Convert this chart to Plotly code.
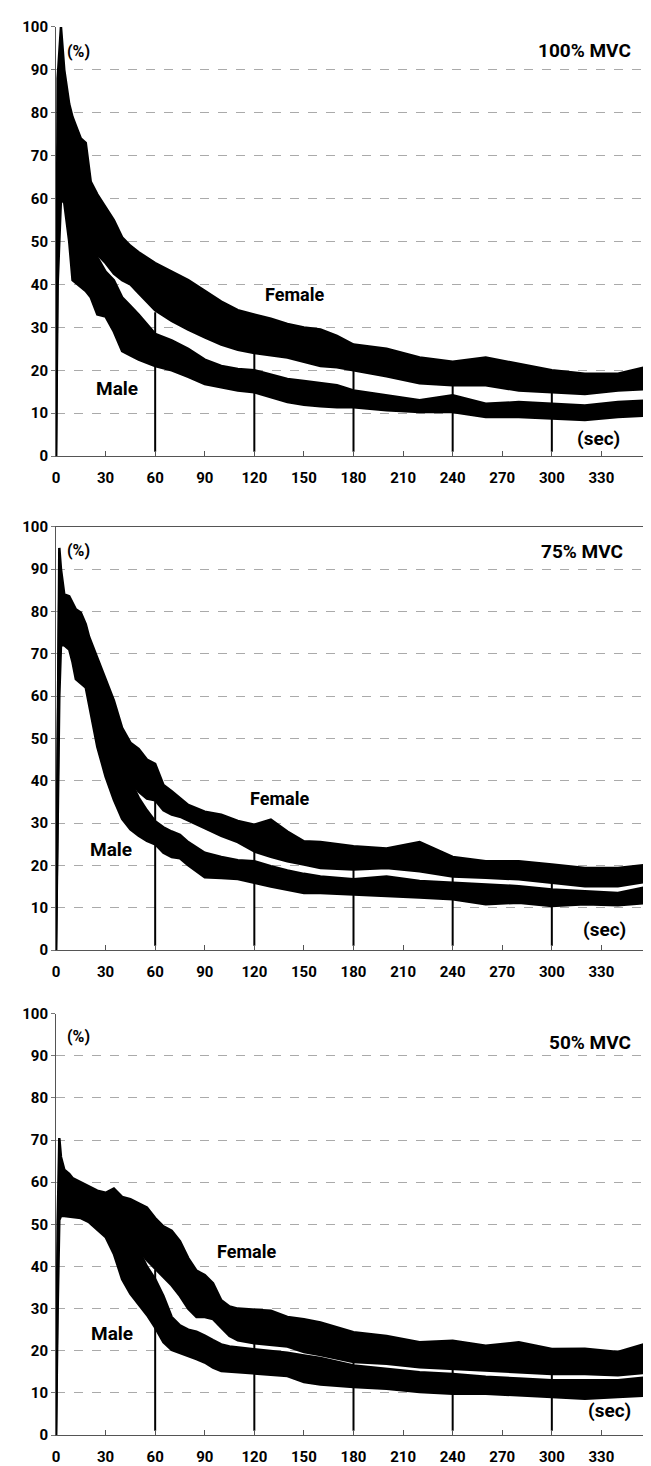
import plotly.graph_objects as go

# ---------------- data ----------------
# Panel 1: 100% MVC
t1 = [0, 1, 3, 5, 8, 10, 13, 15, 18, 21, 25, 30, 35, 40, 45, 50, 60, 70, 80, 90,
      100, 110, 120, 130, 140, 150, 160, 170, 180, 200, 220, 240, 260, 280, 300, 320, 340, 360]
female1_hi = [0, 88, 100, 90, 82, 79, 76, 74, 73, 64, 61, 58, 55, 51, 49, 47.5, 45, 43, 41, 38.5,
              36, 34, 33, 32, 30.8, 30, 29.5, 28, 26, 25, 23, 22, 23, 21.5, 20, 19.2, 19.2, 21]
female1_lo = [0, 60, 80, 78, 70, 66, 60, 57.5, 52, 49, 47, 45, 42.5, 41, 40, 38, 34, 31.5, 29.5, 27.7,
              26, 24.8, 24, 23.5, 23, 22, 21, 20.7, 20, 18.6, 17, 16.5, 16.5, 15.3, 14.9, 14.5, 15.3, 15.7]
male1_hi = [0, 70, 88, 85, 78, 70, 62, 56, 51, 49, 46, 43, 41, 37, 35, 33, 28.5, 27, 25, 22.5,
            21, 20.3, 20, 19, 18, 17.5, 17, 16.5, 15.3, 14.2, 13, 14.2, 12.2, 12.6, 12.2, 11.8, 12.6, 13]
male1_lo = [0, 40, 60, 59, 50, 41, 40, 39.5, 38.5, 37, 33, 32.5, 29, 24.5, 23.5, 22.5, 21, 20, 18.5, 16.8,
            16, 15.3, 14.9, 13.8, 12.6, 12, 11.6, 11.4, 11.4, 10.7, 10.3, 10.3, 9.1, 9.1, 8.7, 8.4, 9.1, 9.5]

# Panel 2: 75% MVC
t2 = [0, 1, 2, 3, 5, 8, 10, 12, 15, 18, 20, 25, 30, 35, 40, 45, 50, 55, 60, 65, 70, 75, 80, 90,
      100, 110, 120, 130, 140, 150, 160, 180, 200, 220, 240, 260, 280, 300, 320, 340, 360]
female2_hi = [0, 60, 95, 90, 84, 83.6, 82, 80.5, 79.7, 77, 74, 69, 64, 59, 52.5, 49, 47.5, 45, 44, 39,
              37.5, 36, 34.3, 32.7, 32, 30.5, 29.6, 30.8, 28, 25.7, 25.5, 24.5, 24, 25.5, 22, 21, 21, 20.2,
              19.4, 19.4, 20.2]
female2_lo = [0, 40, 75, 76, 74, 73, 72, 70, 68, 66, 64, 58, 53, 48, 44, 40, 37.4, 35.8, 35.4, 33,
              32, 31.5, 30.5, 28.8, 27, 25.5, 23.3, 22, 21, 20.2, 19.4, 19, 19.4, 18.6, 17.4, 17.1, 16.7,
              15.9, 15.1, 15.1, 16.3]
male2_hi = [0, 50, 85, 82, 80, 79, 78, 77, 75, 72, 70, 64, 57, 50, 44, 40, 36, 33, 30.4, 29,
            28, 27.2, 25.5, 23, 22, 21.2, 21, 19.8, 18.8, 18, 17.4, 16.7, 17.4, 16.3, 15.9, 15.5, 15.1,
            14.3, 13.9, 13.5, 15.1]
male2_lo = [0, 30, 60, 72, 72, 71, 68, 64, 63, 62, 58, 48, 41, 35.5, 31, 28.5, 27, 25.8, 25, 23,
            22, 21.7, 20, 17.2, 17, 16.8, 15.9, 15, 14.2, 13.5, 13.5, 13.1, 12.8, 12.4, 12, 10.8, 11.2,
            10.4, 10.8, 10.6, 11.2]

# Panel 3: 50% MVC
t3 = [0, 1, 2, 3, 5, 8, 10, 15, 20, 25, 30, 35, 40, 45, 50, 55, 60, 65, 70, 75, 80, 85, 90, 95,
      100, 105, 110, 120, 130, 140, 150, 160, 180, 200, 220, 240, 260, 280, 300, 320, 340, 360]
female3_hi = [0, 50, 70.5, 66, 63, 62, 61, 60, 59, 58, 57.5, 58.5, 56.5, 56, 55, 54, 51.5, 49.5, 48.5, 46,
              42, 39, 38, 36, 32, 30.5, 30, 29.8, 29.5, 28, 27.5, 26.7, 24.4, 23.5, 22, 22.4, 21.2, 22,
              20.4, 20.5, 19.7, 22]
female3_lo = [0, 45, 56, 58, 57, 57, 56, 55, 54, 53, 52, 50, 48, 46, 44, 41.5, 39.3, 37.5, 35.5, 33,
              30, 28, 28, 27.5, 25.5, 23.5, 22.5, 21.8, 21.4, 21, 19.7, 19, 17.3, 16.9, 16.1, 15.7, 15.3,
              14.9, 14.5, 14.5, 14.2, 14.9]
male3_hi = [0, 40, 57, 57.5, 57, 57, 57, 56.5, 56, 55, 54, 52, 50, 47, 44, 40, 37, 33, 28, 26,
            25, 24.5, 23.6, 22.5, 21.5, 21, 20.8, 20.4, 20, 19.5, 18.9, 18.3, 16.5, 15.7, 14.9, 14.5, 13.8,
            13.4, 13, 13, 13, 13.8]
male3_lo = [0, 30, 51, 52, 52, 52, 51.8, 51.5, 50.5, 48.8, 47, 43, 37, 33.5, 31, 28.5, 25.5, 22, 20.2, 19.5,
            18.7, 18, 17.2, 16, 15.2, 14.9, 14.8, 14.5, 14.3, 14, 12.6, 12, 11.4, 11, 10.2, 9.8, 9.8,
            9.4, 9, 8.6, 9, 9.4]

# time-mark lines (every minute)
mark_times = [60, 120, 180, 240, 300]
mark_base = 1
mark_top1 = [33.5, 24, 20, 17.2, 15.7]
mark_top2 = [35.4, 23.3, 19.4, 17.4, 19.5]
mark_top3 = [39.3, 22, 18.1, 15.7, 14.5]

panel_titles = ["100% MVC", "75% MVC", "50% MVC"]
x_ticks = [0, 30, 60, 90, 120, 150, 180, 210, 240, 270, 300, 330]
y_ticks = [0, 10, 20, 30, 40, 50, 60, 70, 80, 90, 100]

# label anchor positions in data units
pct_label_pos = [(13.6, 94.2), (13.6, 94.5), (13.6, 94.7)]
title_pos = [(320, 94.6), (318, 94.1), (323, 93.2)]
female_pos = [(144, 37.7), (135, 35.8), (115, 43.6)]
male_pos = [(37, 15.7), (33, 23.7), (34, 24.0)]
sec_pos = [(328, 4.1), (332, 4.9), (335, 5.9)]

panels = [
    (t1, female1_hi, female1_lo, male1_hi, male1_lo, mark_top1),
    (t2, female2_hi, female2_lo, male2_hi, male2_lo, mark_top2),
    (t3, female3_hi, female3_lo, male3_hi, male3_lo, mark_top3),
]

# ---------------- figure ----------------
FONT = "Roboto, Liberation Sans, sans-serif"
fig = go.Figure()

domains = [[0.6903, 0.9930], [0.3420, 0.6405], [0.0, 0.2971]]

for i, (t, fh, fl, mh, ml, mtop) in enumerate(panels):
    xa = "x" if i == 0 else f"x{i+1}"
    ya = "y" if i == 0 else f"y{i+1}"
    # vertical time marks
    mx, my = [], []
    for tt, top in zip(mark_times, mtop):
        mx += [tt, tt, None]
        my += [mark_base, top, None]
    fig.add_trace(go.Scatter(x=mx, y=my, mode="lines", line=dict(color="black", width=2),
                             xaxis=xa, yaxis=ya, hoverinfo="skip", showlegend=False))
    for hi, lo, name in [(mh, ml, "Male"), (fh, fl, "Female")]:
        fig.add_trace(go.Scatter(
            x=list(t) + list(t)[::-1], y=list(hi) + list(lo)[::-1],
            mode="lines", fill="toself", fillcolor="black",
            line=dict(color="black", width=2.5), name=name,
            xaxis=xa, yaxis=ya, showlegend=False))

    axis_font = dict(family=FONT, size=15, color="black", weight="bold")
    xkey = "xaxis" if i == 0 else f"xaxis{i+1}"
    ykey = "yaxis" if i == 0 else f"yaxis{i+1}"
    fig.update_layout(**{
        xkey: dict(domain=[0, 1], range=[0, 360], anchor=ya, tickvals=x_ticks,
                   ticks="inside", ticklen=5, tickcolor="#555", showgrid=False, zeroline=False,
                   showline=True, linecolor="#555", linewidth=1, mirror=(i == 1),
                   tickfont=axis_font, ticklabelstandoff=8),
        ykey: dict(domain=domains[i], range=[0, 100], anchor=xa, tickvals=y_ticks,
                   ticks="outside", ticklen=4, tickcolor="#777", showgrid=True,
                   gridcolor="#aaa", griddash="dash", gridwidth=1, zeroline=False,
                   showline=True, linecolor="#555", linewidth=1,
                   tickfont=axis_font, ticklabelstandoff=0),
    })

    for txt, (px, py), fs in [("(%)", pct_label_pos[i], 16), (panel_titles[i], title_pos[i], 19),
                              ("Female", female_pos[i], 18), ("Male", male_pos[i], 19),
                              ("(sec)", sec_pos[i], 19)]:
        fig.add_annotation(x=px, y=py, xref=xa, yref=ya, text=txt, showarrow=False,
                           font=dict(family=FONT, size=fs, color="black", weight="bold"))

# the page body adds an 8 px offset, so the figure is 8 px smaller than the window
fig.update_layout(width=643, height=1458, margin=dict(l=48, r=0, t=2, b=29),
                  plot_bgcolor="white", paper_bgcolor="white", showlegend=False)

fig.write_html("out.html")
